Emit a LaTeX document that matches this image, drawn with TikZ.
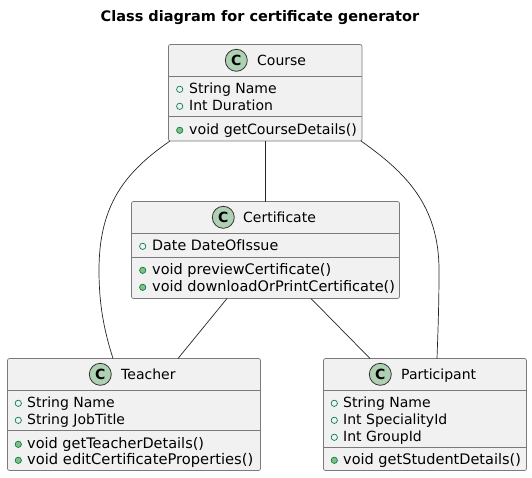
\documentclass[tikz,border=0pt]{standalone}
\usepackage{fontspec}
\setmainfont{DejaVu Sans}
\definecolor{boxfill}{HTML}{F1F1F1}
\definecolor{boxline}{HTML}{7A7A7A}
\definecolor{spot}{HTML}{ADD1B2}
\definecolor{vis}{HTML}{038048}
\definecolor{visfill}{HTML}{84BE84}
\tikzset{x=1pt,y=-1pt,
 classbox/.style={draw=boxline,fill=boxfill,line width=0.7pt,rounded corners=2pt,anchor=north west,inner sep=0pt,outer sep=0pt},
 sep/.style={draw=boxline,line width=0.7pt},
 spotc/.style={circle,draw=black!80,fill=spot,line width=0.8pt,minimum size=22pt,inner sep=0pt,font=\fontsize{14}{14}\selectfont\bfseries},
 cname/.style={anchor=base west,inner sep=0pt,font=\fontsize{14}{14}\selectfont},
 member/.style={anchor=base west,inner sep=0pt,font=\fontsize{14}{14}\selectfont},
 method/.style={anchor=base west,inner sep=0pt,font=\fontsize{14.5}{14.5}\selectfont},
 fieldv/.style={circle,draw=vis,fill=none,line width=0.7pt,minimum size=6.3pt,inner sep=0pt},
 methodv/.style={circle,draw=vis,fill=visfill,line width=0.7pt,minimum size=6.3pt,inner sep=0pt},
 assoc/.style={draw=black!85,line width=0.7pt},
}
\begin{document}
\begin{tikzpicture}
\useasboundingbox (0,0) rectangle (532,477);
\fill[white] (0,0) rectangle (532,477);
\node[font=\fontsize{14.5}{14.5}\selectfont\bfseries,inner sep=0pt] (title) at (260,18) {Class diagram for certificate generator};

% Course
\node[classbox,minimum width=193.5pt,minimum height=96.5pt] (course) at (168.5,44.5) {};
\draw[sep] (168.5,76.5) -- (362,76.5) (168.5,116.5) -- (362,116.5);
\node[spotc] (cc) at (236.3,60.3) {C};
\node[cname] (cn) at (257,65) {Course};
\node[fieldv] (c1v) at (179.7,89.3) {}; \node[member] (c1) at (189,93) {String Name};
\node[fieldv] (c2v) at (179.7,106.3) {}; \node[member] (c2) at (189,110) {Int Duration};
\node[methodv] (c3v) at (179.7,130.3) {}; \node[method,font=\fontsize{14.2}{14.2}\selectfont] (c3) at (189,134) {void getCourseDetails()};

% Certificate
\node[classbox,minimum width=268pt,minimum height=97pt] (cert) at (131.5,201.5) {};
\draw[sep] (131.5,233.5) -- (399.5,233.5) (131.5,257.5) -- (399.5,257.5);
\node[spotc] (ec) at (223.3,217.3) {C};
\node[cname] (en) at (243,222) {Certificate};
\node[fieldv] (e1v) at (142.7,246.3) {}; \node[member,font=\fontsize{14.3}{14.3}\selectfont] (e1) at (152,250) {Date DateOfIssue};
\node[methodv] (e2v) at (142.7,270.3) {}; \node[method] (e2) at (152,274) {void previewCertificate()};
\node[methodv] (e3v) at (142.7,287.3) {}; \node[method] (e3) at (152,291) {void downloadOrPrintCertificate()};

% Teacher
\node[classbox,minimum width=253pt,minimum height=112pt] (teach) at (7.5,358.5) {};
\draw[sep] (7.5,390.5) -- (260.5,390.5) (7.5,430.5) -- (260.5,430.5);
\node[spotc] (tc) at (100.3,374.3) {C};
\node[cname] (tn) at (121,379) {Teacher};
\node[fieldv] (t1v) at (18.3,403.3) {}; \node[member] (t1) at (27,407) {String Name};
\node[fieldv] (t2v) at (18.3,420.3) {}; \node[member] (t2) at (27,424) {String JobTitle};
\node[methodv] (t3v) at (18.3,444.3) {}; \node[method] (t3) at (27,448) {void getTeacherDetails()};
\node[methodv] (t4v) at (18.3,460.3) {}; \node[method,font=\fontsize{14.7}{14.7}\selectfont] (t4) at (27,464) {void editCertificateProperties()};

% Participant
\node[classbox,minimum width=203pt,minimum height=112pt] (part) at (323.5,358.5) {};
\draw[sep] (323.5,390.5) -- (526.5,390.5) (323.5,447.5) -- (526.5,447.5);
\node[spotc] (pc) at (380.3,374.3) {C};
\node[cname] (pn) at (401,379) {Participant};
\node[fieldv] (p1v) at (334.3,403.3) {}; \node[member] (p1) at (343,407) {String Name};
\node[fieldv] (p2v) at (334.3,420.3) {}; \node[member] (p2) at (343,424) {Int SpecialityId};
\node[fieldv] (p3v) at (334.3,437.3) {}; \node[member] (p3) at (343,441) {Int GroupId};
\node[methodv] (p4v) at (334.3,460.3) {}; \node[method] (p4) at (343,464) {void getStudentDetails()};

% Connectors
\coordinate (cSW) at (170,141);
\coordinate (tN) at (113,358.5);
\coordinate (cSE) at (361,141);
\coordinate (pN) at (437,358.5);
\coordinate (cS) at (265,141);
\coordinate (eN) at (265,201.5);
\coordinate (eSL) at (227,298.5);
\coordinate (tNR) at (178,358.5);
\coordinate (eSR) at (311,298.5);
\coordinate (pNL) at (370,358.5);
\path[assoc] (cS) -- (eN);
\path[assoc] (eSL) -- (tNR);
\path[assoc] (eSR) -- (pNL);
\path[assoc] (cSW) .. controls (125,172) and (99,205) .. (99,270) .. controls (99,305) and (104,330) .. (tN);
\path[assoc] (cSE) .. controls (405,172) and (439,205) .. (439,270) .. controls (439,305) and (438,330) .. (pN);
\end{tikzpicture}
\end{document}
